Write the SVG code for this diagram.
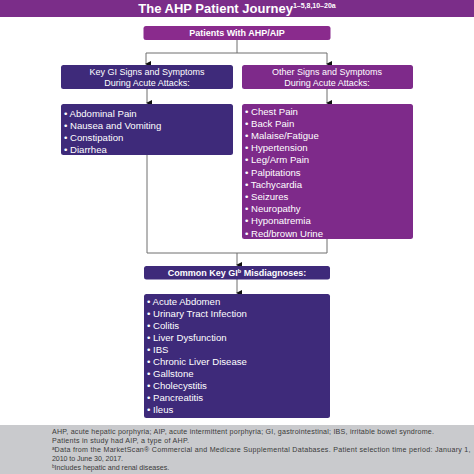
<svg xmlns="http://www.w3.org/2000/svg" width="474" height="474" viewBox="0 0 474 474">
<defs>
<marker id="arr" markerWidth="6" markerHeight="6" refX="3" refY="5" orient="auto" markerUnits="userSpaceOnUse" viewBox="0 0 6 6">
<path d="M0,0 L6,0 L3,6 Z" fill="#111"/>
</marker>
</defs>
<style>
.ind{fill:#3e2a7a}
.pur{fill:#7e2a8a}
.wt{fill:#fff;font-family:"Liberation Sans",Arial,sans-serif}
.b{font-weight:bold}
.hd{font-size:9px}
.li{font-size:9.6px}
.ft{font-family:"Liberation Sans",Arial,sans-serif;font-size:7.1px;fill:#3a3a3a}
.ln{stroke:#6e6e6e;stroke-width:1;fill:none}
</style>
<rect x="0" y="0" width="474" height="17" fill="#7b2d89"/>
<text x="237" y="12.5" text-anchor="middle" class="wt b" font-size="13">The AHP Patient Journey<tspan font-size="7" dy="-5">1–5,8,10–20a</tspan></text>

<g id="connectors">
<path class="ln" d="M237,40 V53 M146,53 H327"/>
<path class="ln" d="M146,53 V64" marker-end="url(#arr)"/>
<path class="ln" d="M327,53 V64" marker-end="url(#arr)"/>
<path class="ln" d="M147,89 V103" marker-end="url(#arr)"/>
<path class="ln" d="M327,89 V103" marker-end="url(#arr)"/>
<path class="ln" d="M147,155 V253 H327 V239"/>
<path class="ln" d="M237,253 V265" marker-end="url(#arr)"/>
<path class="ln" d="M237,279 V293" marker-end="url(#arr)"/>
</g>

<g id="patients">
<rect x="143.5" y="26" width="187" height="14" rx="2.5" fill="#8a2b8d"/>
<text x="237" y="36" text-anchor="middle" class="wt b" font-size="9">Patients With AHP/AIP</text>
</g>

<g id="gi-header">
<rect x="61" y="65" width="172" height="24" rx="2.5" class="ind"/>
<text x="147" y="75" text-anchor="middle" class="wt hd">Key GI Signs and Symptoms</text>
<text x="147" y="85.5" text-anchor="middle" class="wt hd">During Acute Attacks:</text>
</g>

<g id="other-header">
<rect x="242" y="65" width="171" height="24" rx="2.5" class="pur"/>
<text x="327" y="75" text-anchor="middle" class="wt hd">Other Signs and Symptoms</text>
<text x="327" y="85.5" text-anchor="middle" class="wt hd">During Acute Attacks:</text>
</g>

<g id="gi-list">
<rect x="61" y="104" width="172" height="51" rx="2.5" class="ind"/>
<g class="wt li">
<text x="64" y="116.5">• Abdominal Pain</text>
<text x="64" y="128.5">• Nausea and Vomiting</text>
<text x="64" y="140.5">• Constipation</text>
<text x="64" y="152.5">• Diarrhea</text>
</g>
</g>

<g id="other-list">
<rect x="242" y="104" width="171" height="135" rx="2.5" class="pur"/>
<g class="wt li">
<text x="245" y="114.5">• Chest Pain</text>
<text x="245" y="126.7">• Back Pain</text>
<text x="245" y="138.9">• Malaise/Fatigue</text>
<text x="245" y="151.1">• Hypertension</text>
<text x="245" y="163.3">• Leg/Arm Pain</text>
<text x="245" y="175.5">• Palpitations</text>
<text x="245" y="187.7">• Tachycardia</text>
<text x="245" y="199.9">• Seizures</text>
<text x="245" y="212.1">• Neuropathy</text>
<text x="245" y="224.3">• Hyponatremia</text>
<text x="245" y="236.5">• Red/brown Urine</text>
</g>
</g>

<g id="misdiag-header">
<rect x="144" y="266" width="186" height="13.5" rx="2.5" class="ind"/>
<text x="237" y="275.8" text-anchor="middle" class="wt b" font-size="9">Common Key GI<tspan font-size="5.5" dy="-3">b</tspan><tspan dy="3"> Misdiagnoses:</tspan></text>
</g>

<g id="misdiag-list">
<rect x="144" y="294" width="186" height="124" rx="2.5" class="ind"/>
<g class="wt li">
<text x="147" y="304.5">• Acute Abdomen</text>
<text x="147" y="316.6">• Urinary Tract Infection</text>
<text x="147" y="328.7">• Colitis</text>
<text x="147" y="340.8">• Liver Dysfunction</text>
<text x="147" y="352.9">• IBS</text>
<text x="147" y="365">• Chronic Liver Disease</text>
<text x="147" y="377.1">• Gallstone</text>
<text x="147" y="389.2">• Cholecystitis</text>
<text x="147" y="401.3">• Pancreatitis</text>
<text x="147" y="413.4">• Ileus</text>
</g>
</g>

<rect x="0" y="425" width="474" height="49" fill="#c9cacd"/>
<text class="ft" x="52" y="433.5" textLength="382" lengthAdjust="spacing">AHP, acute hepatic porphyria; AIP, acute intermittent porphyria; GI, gastrointestinal; IBS, irritable bowel syndrome.</text>
<text class="ft" x="52" y="442.5" textLength="137" lengthAdjust="spacing">Patients in study had AIP, a type of AHP.</text>
<text class="ft" x="52" y="451.5"><tspan font-size="4.6" dy="-2">a</tspan><tspan dy="2" textLength="416" lengthAdjust="spacing">Data from the MarketScan® Commercial and Medicare Supplemental Databases. Patient selection time period: January 1,</tspan></text>
<text class="ft" x="52" y="460.5" textLength="71" lengthAdjust="spacing">2010 to June 30, 2017.</text>
<text class="ft" x="52" y="469.5"><tspan font-size="4.6" dy="-2">b</tspan><tspan dy="2">Includes hepatic and renal diseases.</tspan></text>
</svg>
